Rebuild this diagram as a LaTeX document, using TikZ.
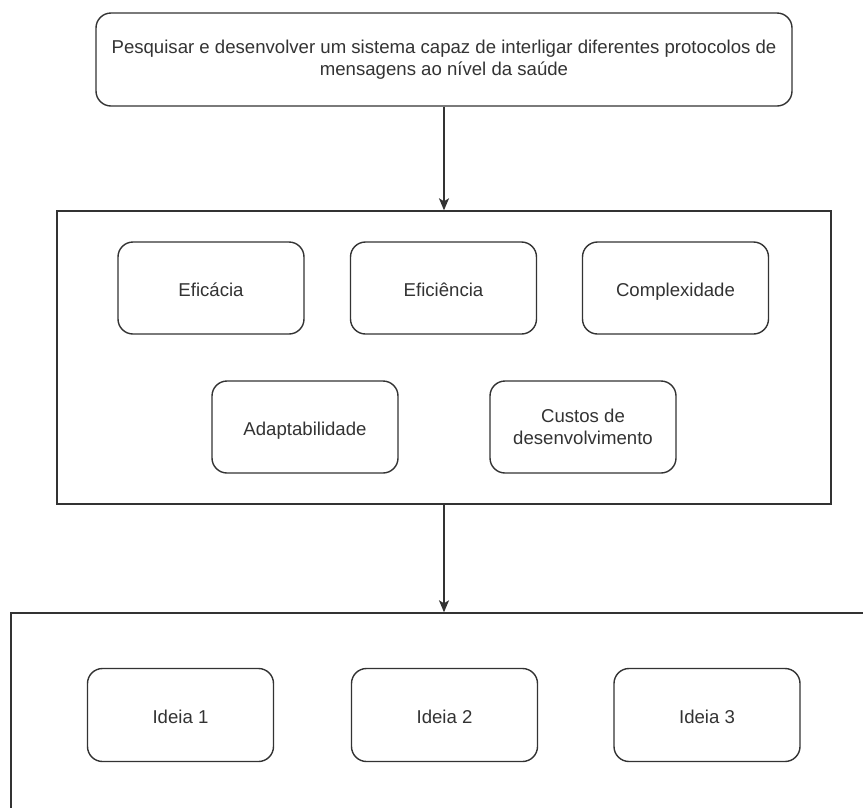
\documentclass[tikz,border=0pt]{standalone}
\usepackage{fontspec}
\setmainfont{Liberation Sans}
\usetikzlibrary{arrows.meta}
\definecolor{ink}{HTML}{333333}
\begin{document}
\begin{tikzpicture}[x=1pt,y=-1pt,
  every node/.style={font=\fontsize{18.6}{22.3}\selectfont, text=ink},
  frame/.style={draw=ink, line width=1.4pt, inner sep=0pt},
  card/.style={frame, rounded corners=15pt, minimum width=186pt, minimum height=92pt, align=center},
  oneline/.style={text height=16pt, text depth=0pt},
  flow/.style={draw=ink, line width=1.4pt, -{Stealth[length=12pt,width=10pt,inset=3pt]}}]
  \clip (0,0) rectangle (863,807);
  \fill[white] (0,0) rectangle (863,807);

  % objective
  \node[frame, rounded corners=15pt, minimum width=696pt, minimum height=93pt, align=center] (goal) at (444,59.5)
    {Pesquisar e desenvolver um sistema capaz de interligar diferentes protocolos de\\mensagens ao nível da saúde};

  % criteria
  \node[frame, minimum width=774pt, minimum height=293pt] (criteria) at (444,357.5) {};
  \node[card, oneline] (eficacia) at (211,288) {Eficácia};
  \node[card, oneline] (eficiencia) at (443.5,288) {Eficiência};
  \node[card, oneline] (complexidade) at (675.5,288) {Complexidade};
  \node[card, oneline] (adapt) at (305,427) {Adaptabilidade};
  \node[card] (custos) at (583,427) {Custos de\\desenvolvimento};

  % ideas
  \node[frame, minimum width=900pt, minimum height=250pt] (ideas) at (461,738) {};
  \node[card, oneline, minimum height=93pt] (ideia1) at (180.5,715) {Ideia 1};
  \node[card, oneline, minimum height=93pt] (ideia2) at (444.5,715) {Ideia 2};
  \node[card, oneline, minimum height=93pt] (ideia3) at (707,715) {Ideia 3};

  % connectors
  \draw[flow] (goal.south) -- (criteria.north);
  \draw[flow] (criteria.south) -- (criteria.south |- ideas.north);
\end{tikzpicture}
\end{document}
